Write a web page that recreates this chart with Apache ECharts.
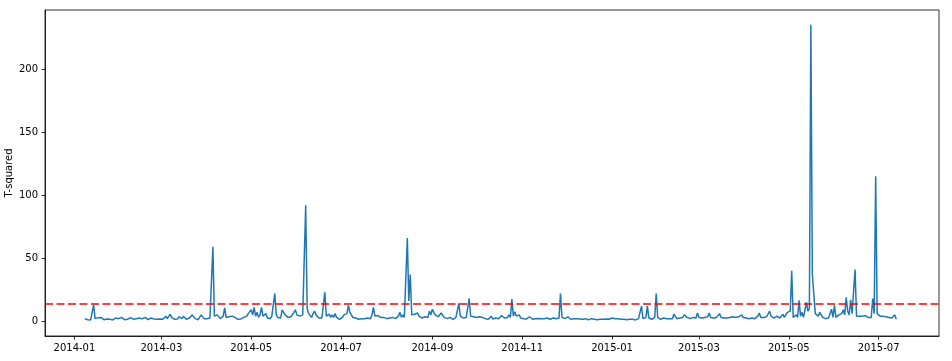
<!DOCTYPE html>
<html>
<head>
<meta charset="utf-8">
<script src="https://cdn.jsdelivr.net/npm/echarts@6/dist/echarts.min.js"></script>
<style>html,body{margin:0;padding:0;background:#fff}#c{width:952px;height:361px}</style>
</head>
<body>
<div id="c"></div>
<script>
// first and last day of the visible x range (categories), and first data day
const axisStart = '2013-12-12';
const axisEnd = '2015-08-11';
const dataStart = '2014-01-08';
const threshold = 14;
const yTicks = [0, 50, 100, 150, 200];
const yName = 'T-squared';
// daily T-squared values from 2014-01-08 to 2015-07-13 (one row per month)
const tSquared = [
  2,1.5,1.2,2,1,2.5,13,2,1.5,2.8,1.5,3,2,1.2,2.5,1.8,3,1.5,2.2,1,1.8,2.5,1.3,2,
  1.5,3,1.8,1.2,2.4,1.5,2,2.8,3.5,1.6,1.2,2,1.5,2.6,1.3,1.8,2.4,3,1.5,1.2,2,2.5,1.4,1.8,2.2,1.5,2.6,1.8,
  2,1.5,2.5,4,2,3.5,5.5,3,2,1.5,2.8,1.8,3.5,4.5,2,4,2.5,1.5,1.2,2.5,3,5,3.5,2,1.5,1.2,2.5,5,4.5,2,1.5,
  2,1.5,2.5,3,59,4,3,5,4.5,2,2.5,4,10.5,3,2,3.5,2.5,4,5.5,3,2,1.5,2,1.8,2.2,3,2.5,4,6,5,
  9,5,11,4,7,3,5,11,4,3,6,2.5,3,2,4,3,22,5,3,4,2.5,9,8,5,4,3,2.5,3.5,5,7,9,
  5,6,4,3,5,4,92,10,6,5,3,6,8,5,3.5,2.5,2,2.5,3,23,4,3,5.5,3,5,3,6,3,2,1.5,
  2,3,5,4,6,12.5,7,5,3,4,2.5,2,1.5,3,2,1.5,2,3,2.5,4,2,5,11,4,3,4.5,3.5,3,2.5,3,2.5,
  2,3,2.5,2,3,2.5,2,3,4,7,3,5,3,4,66,16,37,5,6,5.5,4,6.5,4,3,2.5,2,3.5,5,3,8,5,
  9.5,7,5,4,3.5,5,6.5,5,3,2.5,2,2.5,3,2,1.5,2,3,4,14,4,3,2.5,3.5,3,4,18,4,3,3.5,2,
  3,2.5,3.5,2,3,2.5,2,3,1.5,2,4,1.8,2,2.5,3,2,3.5,4.5,3,2.5,4,3,5,3,17.5,4,7.5,4,3,5,2.5,
  3,2,2.5,1.8,2,3.5,2,1.5,2.5,2,1.8,2.2,3,2,1.5,2,3.5,2.5,2,1.5,2,2.5,1.8,2,3,2.5,22,3,2.5,2,
  2,3.5,2,1.5,1.2,2,1.5,2,1.2,1.8,3,1.5,1.2,2,1.5,1,1.5,2,1.2,1.5,1.8,1.2,1,1.5,2,1.5,1.2,1.8,2.2,1.5,2,
  2.5,3,2,1.5,2,1.2,1.5,2.5,1.5,1.8,1.2,1,1.5,2,1.5,1.2,1,1.5,2,2.5,12,2,1.5,3,12,2.5,1.8,1.5,2,3,22,
  3,2,1.5,3,2.5,4,2,1.5,2,3,2,5.5,4,2,1.5,2.5,2,3,5,6.5,3,4.5,2,2.5,3,2,2.5,6.5,
  3,2,2.5,2,3,2,3.5,6.5,3,2,2.5,2,3,4,6,3,2,2.5,3,2.5,4,3,2.5,3.5,2.5,3,2,3.5,2.5,5,3,
  3,2.5,4,2,3,2.5,3.5,2,3,4,6.5,3,2.5,3,2,3.5,4,8,4,3,2.5,3.5,4,3,2.5,4,5.5,3,4,7,
  6,8,40,3,4,5,3,16.5,4,7,3,4,15,8,10,235,37,36,6,5,4,7,5,3,2.5,2,3,2.5,4,9.5,3,
  12.5,3,3.5,5,4,6,9,5,19,8,5,17,6,5,41,4,3,4,5,4,3,4.5,3.5,3,4,3,18,6,115,6,
  5,4,5.5,4,3,3.5,2.5,3,2,2.5,2,5,1.5
];

function fmt(d) {
  const m = d.getUTCMonth() + 1, day = d.getUTCDate();
  return d.getUTCFullYear() + '-' + (m < 10 ? '0' : '') + m + '-' + (day < 10 ? '0' : '') + day;
}
const categories = [];
for (let t = Date.parse(axisStart + 'T00:00:00Z'); t <= Date.parse(axisEnd + 'T00:00:00Z'); t += 86400000) {
  categories.push(fmt(new Date(t)));
}
const offset = categories.indexOf(dataStart);
const seriesData = categories.map((c, i) => {
  const k = i - offset;
  return (k >= 0 && k < tSquared.length) ? tSquared[k] : null;
});
const isTick = (idx, val) => val.slice(8) === '01' && parseInt(val.slice(5, 7), 10) % 2 === 1;

const ymax = Math.max(...tSquared), ymin = 0;
const pad = (ymax - ymin) * 0.05;

const chart = echarts.init(document.getElementById('c'), null, {renderer: 'canvas'});
chart.setOption({
  animation: false,
  backgroundColor: '#fff',
  textStyle: {fontFamily: 'DejaVu Sans'},
  grid: {left: 45, right: 13, top: 10, bottom: 25, containLabel: false, outerBoundsMode: 'none',
         show: true, borderColor: '#000', borderWidth: 0.8, backgroundColor: 'transparent'},
  xAxis: {
    type: 'category',
    data: categories,
    boundaryGap: false,
    axisLine: {show: true, onZero: false, lineStyle: {color: '#000', width: 0.8}},
    axisTick: {show: true, interval: isTick, length: 3.5, lineStyle: {color: '#000', width: 0.8}},
    axisLabel: {show: true, interval: isTick, formatter: v => v.slice(0, 7), color: '#000', fontSize: 10, fontFamily: 'DejaVu Sans', margin: 7},
    splitLine: {show: false}
  },
  yAxis: {
    type: 'value',
    min: ymin - pad,
    max: ymax + pad,
    name: yName,
    nameLocation: 'middle',
    nameGap: 31,
    nameMoveOverlap: false,
    nameTextStyle: {color: '#000', fontSize: 10, fontFamily: 'DejaVu Sans'},
    axisLine: {show: true, onZero: false, lineStyle: {color: '#000', width: 0.8}},
    axisTick: {show: true, length: 3.5, customValues: yTicks, lineStyle: {color: '#000', width: 0.8}},
    axisLabel: {show: true, customValues: yTicks, color: '#000', fontSize: 10, fontFamily: 'DejaVu Sans', margin: 7},
    splitLine: {show: false}
  },
  series: [{
    type: 'line',
    data: seriesData,
    showSymbol: false,
    symbol: 'none',
    connectNulls: false,
    lineStyle: {color: '#1f77b4', width: 1.5},
    itemStyle: {color: '#1f77b4'},
    markLine: {
      silent: true,
      symbol: 'none',
      label: {show: false},
      lineStyle: {color: '#ff0000', width: 1.5, type: [8, 3.5], opacity: 1},
      data: [{yAxis: threshold}]
    }
  }]
});
</script>
</body>
</html>
